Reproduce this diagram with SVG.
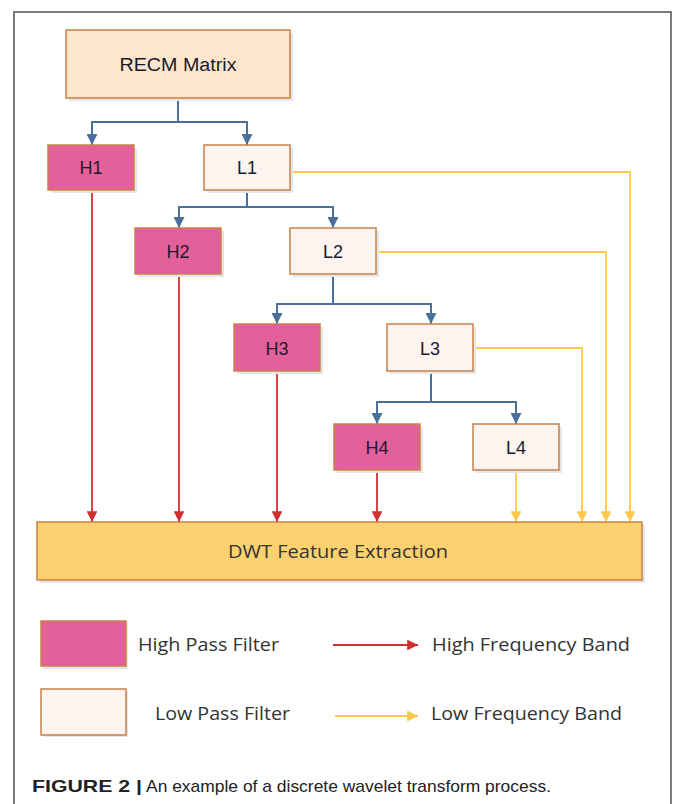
<svg xmlns="http://www.w3.org/2000/svg" width="674" height="804" viewBox="0 0 674 804">
  <defs>
    <style>
      .frame { fill: #ffffff; stroke: #7a7a7a; stroke-width: 2; }
      .shadow { fill: #e6e6e6; }
      .box { stroke: #c8814a; stroke-width: 1.5; }
      .hi { fill: #e4609a; }
      .lo { fill: #fdf3ef; }
      .src { fill: #fde6cc; }
      .out { fill: #fdd16f; }
      .lbl { font-family: "Liberation Sans", Arial, sans-serif; font-size: 18px; fill: #1a1a2e; text-anchor: middle; }
      .ui { font-family: "Open Sans", "Noto Sans", sans-serif; font-size: 18.5px; fill: #333333; }
      .split { fill: none; stroke: #4a6f9a; stroke-width: 2; }
      .high { fill: none; stroke: #d2302f; stroke-width: 1.8; }
      .low { fill: none; stroke: #fec84a; stroke-width: 1.8; }
      .cap { font-family: "Liberation Sans", Arial, sans-serif; font-size: 17px; fill: #222222; }
    </style>
    <marker id="ab" viewBox="0 0 10 10" refX="10" refY="5" markerWidth="5.5" markerHeight="5.5" orient="auto" markerUnits="strokeWidth">
      <path d="M0,0 L10,5 L0,10 z" fill="#4a6f9a"/>
    </marker>
    <marker id="ar" viewBox="0 0 10 10" refX="10" refY="5" markerWidth="6" markerHeight="6" orient="auto" markerUnits="strokeWidth">
      <path d="M0,0 L10,5 L0,10 z" fill="#d2302f"/>
    </marker>
    <marker id="ay" viewBox="0 0 10 10" refX="10" refY="5" markerWidth="6" markerHeight="6" orient="auto" markerUnits="strokeWidth">
      <path d="M0,0 L10,5 L0,10 z" fill="#fec84a"/>
    </marker>
  </defs>

  <rect x="0" y="0" width="674" height="804" fill="#ffffff"/>
  <rect class="frame" x="14" y="12" width="657" height="800"/>

  <!-- connectors -->
  <g id="connectors">
    <!-- decomposition splits -->
    <path class="split" d="M178,98 V122 H92 V145" marker-end="url(#ab)"/>
    <path class="split" d="M178,122 H247 V145" marker-end="url(#ab)"/>
    <path class="split" d="M247,190 V207 H179 V228" marker-end="url(#ab)"/>
    <path class="split" d="M247,207 H333 V228" marker-end="url(#ab)"/>
    <path class="split" d="M333,275 V304 H277 V324" marker-end="url(#ab)"/>
    <path class="split" d="M333,304 H431 V324" marker-end="url(#ab)"/>
    <path class="split" d="M431,372 V402 H377 V424" marker-end="url(#ab)"/>
    <path class="split" d="M431,402 H516 V424" marker-end="url(#ab)"/>
    <!-- high frequency bands -->
    <path class="high" d="M92,191 V522" marker-end="url(#ar)"/>
    <path class="high" d="M179,275 V522" marker-end="url(#ar)"/>
    <path class="high" d="M277,372 V522" marker-end="url(#ar)"/>
    <path class="high" d="M377,470 V522" marker-end="url(#ar)"/>
    <!-- low frequency bands -->
    <path class="low" d="M516,470 V522" marker-end="url(#ay)"/>
    <path class="low" d="M475,348 H582 V522" marker-end="url(#ay)"/>
    <path class="low" d="M378,252 H606 V522" marker-end="url(#ay)"/>
    <path class="low" d="M291,172 H630 V522" marker-end="url(#ay)"/>
  </g>

  <g id="recm">
    <rect class="shadow" x="69" y="33" width="224" height="68"/>
    <rect class="box src" x="66" y="30" width="224" height="68"/>
    <text class="lbl" x="178" y="71" textLength="117" lengthAdjust="spacingAndGlyphs">RECM Matrix</text>
  </g>
  <g id="h1">
    <rect class="shadow" x="51" y="148" width="86" height="45"/>
    <rect class="box hi" x="48" y="145" width="86" height="45"/>
    <text class="lbl" x="91" y="174">H1</text>
  </g>
  <g id="l1">
    <rect class="shadow" x="207" y="148" width="86" height="45"/>
    <rect class="box lo" x="204" y="145" width="86" height="45"/>
    <text class="lbl" x="247" y="174">L1</text>
  </g>
  <g id="h2">
    <rect class="shadow" x="138" y="231" width="86" height="46"/>
    <rect class="box hi" x="135" y="228" width="86" height="46"/>
    <text class="lbl" x="178" y="258">H2</text>
  </g>
  <g id="l2">
    <rect class="shadow" x="293" y="231" width="86" height="46"/>
    <rect class="box lo" x="290" y="228" width="86" height="46"/>
    <text class="lbl" x="333" y="258">L2</text>
  </g>
  <g id="h3">
    <rect class="shadow" x="237" y="327" width="86" height="47"/>
    <rect class="box hi" x="234" y="324" width="86" height="47"/>
    <text class="lbl" x="277" y="355">H3</text>
  </g>
  <g id="l3">
    <rect class="shadow" x="390" y="327" width="86" height="47"/>
    <rect class="box lo" x="387" y="324" width="86" height="47"/>
    <text class="lbl" x="430" y="355">L3</text>
  </g>
  <g id="h4">
    <rect class="shadow" x="337" y="427" width="86" height="46"/>
    <rect class="box hi" x="334" y="424" width="86" height="46"/>
    <text class="lbl" x="377" y="454">H4</text>
  </g>
  <g id="l4">
    <rect class="shadow" x="476" y="427" width="86" height="46"/>
    <rect class="box lo" x="473" y="424" width="86" height="46"/>
    <text class="lbl" x="516" y="454">L4</text>
  </g>
  <g id="dwt">
    <rect class="shadow" x="40" y="525" width="605" height="58"/>
    <rect class="box out" x="37" y="522" width="605" height="58"/>
    <text class="ui" x="228" y="558" fill="#1a1a1a" textLength="220" lengthAdjust="spacingAndGlyphs">DWT Feature Extraction</text>
  </g>

  <!-- legend -->
  <g id="legend">
    <rect class="shadow" x="43" y="623" width="85" height="46"/>
    <rect class="box hi" x="41" y="621" width="85" height="45"/>
    <text class="ui" x="138" y="651" textLength="141" lengthAdjust="spacingAndGlyphs">High Pass Filter</text>
    <path class="high" d="M333,645 H418" marker-end="url(#ar)"/>
    <text class="ui" x="432" y="651" textLength="198" lengthAdjust="spacingAndGlyphs">High Frequency Band</text>
    <rect class="shadow" x="43" y="691" width="85" height="46"/>
    <rect class="box lo" x="41" y="689" width="85" height="46"/>
    <text class="ui" x="155" y="720" textLength="135" lengthAdjust="spacingAndGlyphs">Low Pass Filter</text>
    <path class="low" d="M335,716 H418" marker-end="url(#ay)"/>
    <text class="ui" x="431" y="720" textLength="191" lengthAdjust="spacingAndGlyphs">Low Frequency Band</text>
  </g>

  <text class="cap" x="32" y="792"><tspan font-weight="bold" textLength="110" lengthAdjust="spacingAndGlyphs">FIGURE 2 |</tspan><tspan x="146" textLength="405" lengthAdjust="spacingAndGlyphs">An example of a discrete wavelet transform process.</tspan></text>
</svg>
